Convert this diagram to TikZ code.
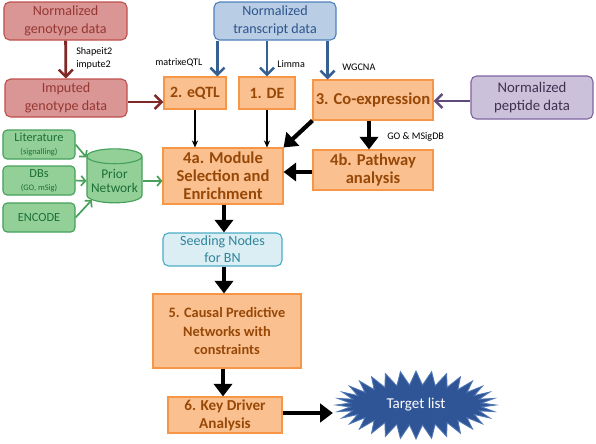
\documentclass[tikz,border=0pt]{standalone}
\usepackage{fontspec}
\setmainfont{Carlito}
\usetikzlibrary{arrows.meta,shapes.geometric,shapes.symbols,positioning}
\definecolor{GenoF}  {RGB}{217,150,148}
\definecolor{GenoD}  {RGB}{192, 80, 77}
\definecolor{GenoT}  {RGB}{150, 55, 52}
\definecolor{GenoA}  {RGB}{128, 40, 38}
\definecolor{TransF} {RGB}{185,205,229}
\definecolor{TransD} {RGB}{ 79,129,189}
\definecolor{TransT} {RGB}{ 45, 85,140}
\definecolor{TransA} {RGB}{ 55, 96,146}
\definecolor{PeptF}  {RGB}{204,193,218}
\definecolor{PeptD}  {RGB}{128,100,162}
\definecolor{PeptT}  {RGB}{ 64, 49, 82}
\definecolor{PeptA}  {RGB}{ 96, 74,123}
\definecolor{StepF}  {RGB}{250,192,144}
\definecolor{StepD}  {RGB}{247,150, 70}
\definecolor{StepT}  {RGB}{151, 72,  7}
\definecolor{PriorF} {RGB}{146,208,152}
\definecolor{PriorD} {RGB}{ 70,160, 90}
\definecolor{PriorT} {RGB}{ 30,110, 55}
\definecolor{SeedF}  {RGB}{218,238,243}
\definecolor{SeedD}  {RGB}{ 75,172,198}
\definecolor{SeedT}  {RGB}{ 49,133,155}
\definecolor{StarF}  {RGB}{ 47, 85,151}
\definecolor{StarD}  {RGB}{ 80,120,180}

\tikzset{
  databox/.style={draw,rounded corners=4pt,line width=0.8pt,align=center,
    inner sep=1pt,font=\fontsize{10}{12.8}\selectfont},
  genobox/.style={databox,fill=GenoF,draw=GenoD,text=GenoT},
  transbox/.style={databox,fill=TransF,draw=TransD,text=TransT},
  peptbox/.style={databox,fill=PeptF,draw=PeptD,text=PeptT},
  stepbox/.style={draw=StepD,fill=StepF,text=StepT,line width=0.8pt,
    align=center,inner sep=1pt,font=\fontsize{11.8}{12.8}\selectfont\bfseries},
  srcbox/.style={draw=PriorD,fill=PriorF,text=PriorT,rounded corners=3pt,
    line width=0.8pt,align=center,inner sep=1pt,
    minimum width=1.8cm,minimum height=0.725cm,font=\fontsize{8.8}{9.5}\selectfont},
  toolnote/.style={anchor=west,align=left,inner sep=0pt,
    font=\fontsize{7.2}{9}\selectfont},
  barb/.style={-{Straight Barb[length=5pt,width=10pt,line width=1.8pt]},line width=2pt},
  heavy/.style={-{Triangle[length=9pt,width=13pt]},line width=3pt},
  lightarr/.style={-{Stealth[length=5pt,width=4.5pt]},line width=0.8pt},
  greenarr/.style={-{Straight Barb[length=3pt,width=7pt]},line width=1.2pt,PriorD}
}

\begin{document}
\begin{tikzpicture}[x=0.025cm,y=-0.025cm]
  \useasboundingbox (0,0) rectangle (596,443);

  \node[genobox,minimum width=3.075cm,minimum height=0.95cm] (geno) at (65.5,21)
    {Normalized\\genotype data};
  \node[transbox,minimum width=3.05cm,minimum height=0.95cm] (trans) at (275,21)
    {Normalized\\transcript data};
  \node[genobox,minimum width=3.05cm,minimum height=0.95cm] (imputed) at (66,98)
    {Imputed\\genotype data};
  \node[stepbox,minimum width=1.55cm,minimum height=0.8cm,
    font=\fontsize{11.2}{12.8}\selectfont\bfseries] (eqtl) at (195,93) {2. eQTL};
  \node[stepbox,minimum width=1.4cm,minimum height=0.8cm,
    font=\fontsize{11.2}{12.8}\selectfont\bfseries] (de) at (267,93) {1. DE};
  \node[stepbox,minimum width=3.0cm,minimum height=1.0cm] (coexp) at (373,100)
    {3. Co-expression};
  \node[peptbox,minimum width=3.05cm,minimum height=1.075cm,
    font=\fontsize{10.5}{13}\selectfont] (pept) at (532,97.5)
    {Normalized\\peptide data};

  \node[srcbox] (lit) at (39,144.5)
    {Literature\\{\fontsize{6}{7}\selectfont(signalling)}};
  \node[srcbox] (dbs) at (39,180.5)
    {DBs\\{\fontsize{6}{7}\selectfont(GO, mSig)}};
  \node[srcbox] (encode) at (39,217.5) {ENCODE};
  \node[cylinder,shape border rotate=90,aspect=0.3,draw=PriorD,fill=PriorF,
    text=PriorT,line width=0.8pt,minimum width=1.375cm,minimum height=1.35cm,
    align=center,inner sep=1pt,font=\fontsize{9.5}{10.5}\selectfont] (prior) at (114.5,181)
    {Prior\\Network};

  \node[stepbox,minimum width=3.0cm,minimum height=1.4cm] (m4a) at (223,176)
    {4a. Module\\Selection and\\Enrichment};
  \node[stepbox,minimum width=3.0cm,minimum height=1.0cm] (m4b) at (373,170)
    {4b. Pathway\\analysis};
  \node[databox,fill=SeedF,draw=SeedD,text=SeedT,minimum width=2.975cm,
    minimum height=0.825cm,font=\fontsize{10}{12}\selectfont] (seed) at (222.5,249.5)
    {Seeding Nodes\\for BN};
  \node[stepbox,minimum width=3.7cm,minimum height=1.85cm,
    font=\fontsize{10.2}{13.2}\selectfont\bfseries] (causal) at (227,331)
    {5. Causal Predictive\\Networks with\\constraints};
  \node[stepbox,minimum width=2.85cm,minimum height=0.9cm,
    font=\fontsize{10.8}{12.8}\selectfont\bfseries] (kda) at (225,415)
    {6. Key Driver\\Analysis};
  \node[starburst,starburst points=32,starburst point height=0.35cm,
    random starburst=0,fill=StarF,draw=StarD,line width=0.6pt,text=white,
    minimum width=4.0cm,minimum height=1.7cm,font=\fontsize{10.7}{12}\selectfont]
    (target) at (416,405) {Target list};

  \node[toolnote] (shapeit) at (76,58.5) {Shapeit2\\impute2};
  \node[toolnote] (mqtl) at (155,63) {matrixeQTL};
  \node[toolnote] (limma) at (277,64) {Limma};
  \node[toolnote] (wgcna) at (342,67) {WGCNA};
  \node[toolnote] (gomsig) at (387,137) {GO \& MSigDB};

  \coordinate (tq) at ([xshift=0.1cm]trans.south west);
  \coordinate (tc) at ([xshift=-0.225cm]trans.south east);

  \draw[barb,GenoA] (geno) -- (imputed);
  \draw[barb,GenoA] (imputed.east |- 0,102) -- (eqtl.west |- 0,102);
  \draw[barb,TransA] (tq) -- (tq |- eqtl.north);
  \draw[barb,TransA] (trans.south -| de) -- (de.north);
  \draw[barb,TransA] (tc) -- (tc |- coexp.north);
  \draw[barb,PeptA] (pept.west |- 0,101) -- (coexp.east |- 0,101);

  \draw[greenarr] (lit.east) -- (prior.140);
  \draw[greenarr] (dbs.east) -- (prior.west);
  \draw[greenarr] (encode.east) -- (prior.220);
  \draw[greenarr] (prior.east) -- (prior.east -| m4a.west);

  \draw[lightarr] (eqtl.south) -- (eqtl.south |- m4a.north);
  \draw[lightarr] (de.south) -- (de.south |- m4a.north);
  \draw[heavy] (coexp.south west) -- (m4a.north east);
  \draw[heavy] (coexp.south -| 369,0) -- (m4b.north -| 369,0);
  \draw[heavy] (m4b.west |- 0,172) -- (m4a.east |- 0,172);
  \draw[heavy] (m4a.south -| 224,0) -- (seed.north -| 224,0);
  \draw[heavy] (seed.south -| 224,0) -- (causal.north -| 224,0);
  \draw[heavy] (causal.south -| 223,0) -- (kda.north -| 223,0);
  \draw[heavy] (kda.east |- 0,413) -- (target.west |- 0,413);
\end{tikzpicture}
\end{document}
